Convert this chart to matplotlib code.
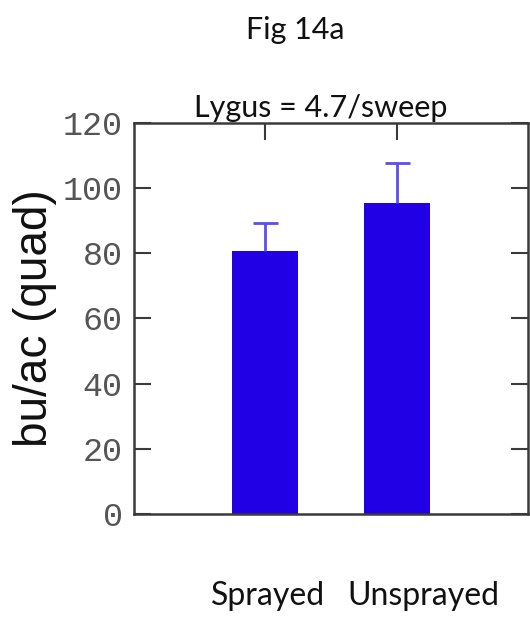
import numpy as np
import matplotlib.pyplot as plt

groups = ["Sprayed", "Unsprayed"]
yields = [80.6, 95.5]
errors = [8.6, 12.2]
yticks = [0, 20, 40, 60, 80, 100, 120]

bar_color = "#2200e6"
ink = "#3a3a3a"

fig = plt.figure(figsize=(5.3, 6.18), dpi=100)
ax = fig.add_axes([0.2528, 0.1683, 0.7435, 0.6327])

x = np.arange(1, len(groups) + 1)
ax.bar(x, yields, width=0.5, color=bar_color, zorder=2)
eb = ax.errorbar(x, yields, yerr=[np.zeros(len(errors)), errors], fmt="none",
                 ecolor="#5e4cf0", elinewidth=2, capsize=9, capthick=2, zorder=3)
eb[1][0].set_visible(False)  # hide the lower cap

ax.set_xlim(0, 3)
ax.set_ylim(0, 120)
ax.set_yticks(yticks)
ax.set_xticks(x)
ax.tick_params(axis="y", direction="in", length=12, width=1.5, color=ink,
               right=True, labelsize=24, labelcolor="#555555", pad=8)
ax.tick_params(axis="x", direction="in", length=12, width=1.5, color=ink,
               top=True, bottom=False, labelbottom=False)
for lab in ax.get_yticklabels():
    lab.set_family("Liberation Mono")
for s in ax.spines.values():
    s.set_linewidth(1.8)
    s.set_color(ink)

ax.set_ylabel("bu/ac (quad)", fontsize=33, family="Liberation Sans",
              color="#111111", labelpad=4)

cal = ["Lato", "DejaVu Sans"]
fig.text(0.558, 0.952, "Fig 14a", fontsize=22, family=cal, ha="center",
         va="center", color="#111111")
ax.text(0.475, 1.015, "Lygus = 4.7/sweep", transform=ax.transAxes, fontsize=22,
        family=cal, ha="center", va="baseline", color="#111111")
label_x = [1.02, 2.2]
for lx, g in zip(label_x, groups):
    ax.text(lx, -0.21, g, transform=ax.get_xaxis_transform(), fontsize=23,
            family=cal, ha="center", va="center", color="#111111")

fig.savefig("out.png", dpi=100)
